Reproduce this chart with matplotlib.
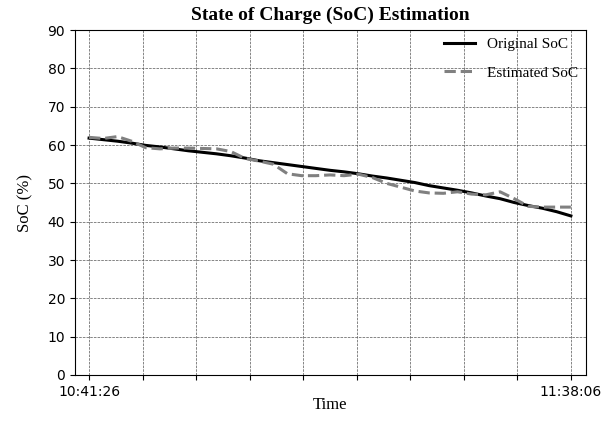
import numpy as np
import matplotlib
matplotlib.use("Agg")
import matplotlib.pyplot as plt

# seconds since 10:41:26, one sample every 100 s
t_sec = list(range(0, 3500, 100))
soc_orig = [61.8, 61.4, 61.0, 60.5, 59.9, 59.5, 59.0, 58.5, 58.1, 57.7,
            57.2, 56.6, 55.9, 55.4, 54.9, 54.4, 53.9, 53.4, 53.0, 52.5,
            51.9, 51.4, 50.8, 50.2, 49.4, 48.8, 48.2, 47.5, 46.7, 46.0,
            45.0, 44.2, 43.5, 42.6, 41.5]
soc_est = [62.0, 61.7, 62.2, 61.0, 59.3, 59.0, 59.2, 59.2, 59.1, 59.0,
           58.3, 56.5, 55.8, 55.0, 52.5, 52.0, 52.0, 52.2, 52.0, 52.4,
           51.5, 50.0, 49.0, 48.0, 47.5, 47.4, 47.8, 47.2, 47.0, 47.8,
           46.0, 44.0, 43.8, 43.8, 43.8]
tick_labels = ["10:41:26"] + [""] * 8 + ["11:38:06"]

serif = ["Liberation Serif", "DejaVu Serif"]

fig = plt.figure(figsize=(6.14, 4.23), dpi=100)
ax = fig.add_axes([0.122, 0.1135, 0.832, 0.8155])
ax.plot(t_sec, soc_orig, color="black", lw=2.2, label="Original SoC")
ax.plot(t_sec, soc_est, color="gray", lw=2.2, ls="--", label="Estimated SoC")

ax.set_xlim(-100, 3505)
ax.set_ylim(0, 90)
ax.set_yticks(range(0, 91, 10))
ax.set_xticks(np.linspace(0, 3400, 10))
ax.set_xticklabels(tick_labels)
ax.grid(True, ls="--", color="#555555", lw=0.5)
ax.tick_params(labelsize=10)

ax.set_title("State of Charge (SoC) Estimation", family=serif, fontweight="bold", fontsize=14, pad=7)
ax.set_xlabel("Time", family=serif, fontsize=12, labelpad=-1)
ax.set_ylabel("SoC (%)", family=serif, fontsize=12, labelpad=10)
ax.legend(loc="upper right", frameon=False, prop={"family": serif, "size": 11},
          labelspacing=0.95, handlelength=2.0, borderaxespad=0.1)

fig.savefig("out.png", dpi=100)
